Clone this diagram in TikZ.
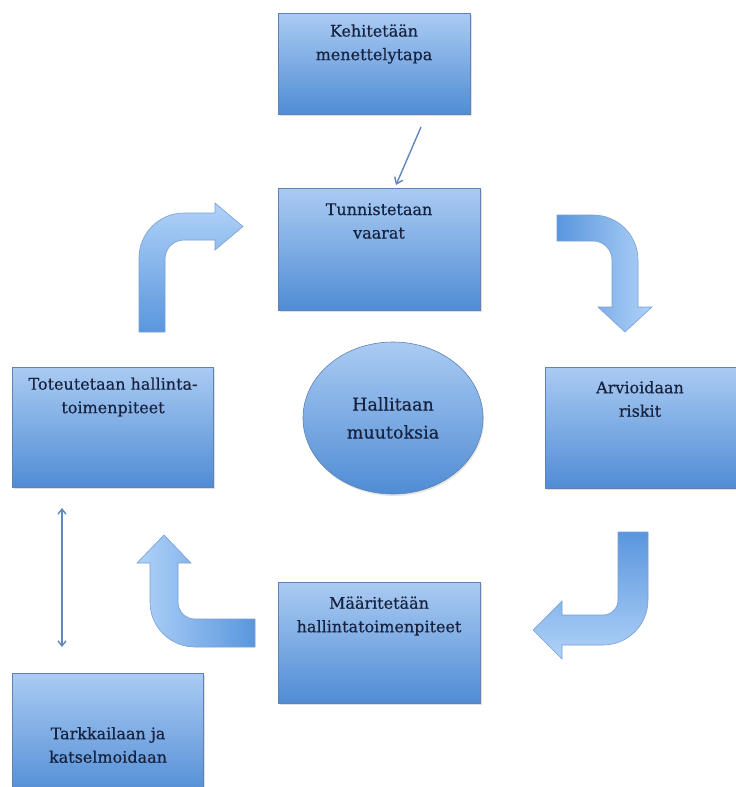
\documentclass[tikz,border=0pt]{standalone}
\usepackage{fontspec}
\setmainfont{DejaVu Serif}[FakeBold=0.4]
\usetikzlibrary{shapes.geometric,shadows,arrows.meta}

\definecolor{boxlight}{RGB}{170,203,243}
\definecolor{boxdark}{RGB}{80,140,212}
\definecolor{boxedge}{RGB}{96,130,178}
\definecolor{arrlight}{RGB}{176,210,248}
\definecolor{arrdark}{RGB}{90,150,222}
\definecolor{arredge}{RGB}{120,160,210}
\definecolor{inkblue}{RGB}{22,34,62}
\definecolor{thinline}{RGB}{100,135,185}

\tikzset{
  stepbox/.style={rectangle, draw=boxedge, line width=0.6pt,
    top color=boxlight, bottom color=boxdark, inner sep=0pt,
    drop shadow={opacity=0.25, shadow xshift=1.5pt, shadow yshift=-2pt}},
  hub/.style={ellipse, draw=boxedge, line width=0.6pt,
    top color=boxlight, bottom color=boxdark, inner sep=0pt,
    minimum width=180pt, minimum height=152pt,
    drop shadow={opacity=0.2, shadow xshift=1pt, shadow yshift=-2pt}},
  lbl/.style={align=center, text=inkblue, font=\fontsize{16}{23.5}\selectfont\addfontfeature{FakeBold=0.4}, inner sep=0pt},
  hublbl/.style={align=center, text=inkblue, font=\fontsize{17.5}{28}\selectfont\addfontfeature{FakeBold=0.4}, inner sep=0pt},
  bent/.style={draw=arredge, line width=0.6pt},
  thinarrow/.style={draw=thinline, line width=1.4pt},
}

\begin{document}
\begin{tikzpicture}[x=1pt, y=-1pt]
  \useasboundingbox[fill=white] (0,0) rectangle (736,787);

  % process boxes
  \node[stepbox, anchor=north west, minimum width=192pt, minimum height=101pt] (b1) at (278,13) {};
  \node[stepbox, anchor=north west, minimum width=202pt, minimum height=122pt] (b2) at (278,188) {};
  \node[stepbox, anchor=north west, minimum width=195pt, minimum height=121pt] (b3) at (545,367) {};
  \node[stepbox, anchor=north west, minimum width=201pt, minimum height=120pt] (b4) at (12,367) {};
  \node[stepbox, anchor=north west, minimum width=202pt, minimum height=121pt] (b5) at (278,582) {};
  \node[stepbox, anchor=north west, minimum width=191pt, minimum height=125pt] (b6) at (12,673) {};

  % central ellipse
  \node[hub] (hub) at (393,418) {};

  % labels
  \node[lbl] (t1) at (374,44) {Kehitetään\\menettelytapa};
  \node[lbl] (t2) at (379,221) {Tunnistetaan\\vaarat};
  \node[lbl] (t3) at (640,399) {Arvioidaan\\riskit};
  \node[lbl] (t4) at (113,397) {Toteutetaan hallinta-\\toimenpiteet};
  \node[lbl] (t5) at (379,616) {Määritetään\\hallintatoimenpiteet};
  \node[lbl] (t6) at (108,745) {Tarkkailaan ja\\katselmoidaan};
  \node[hublbl] (th) at (393,418) {Hallitaan\\muutoksia};

  % bent block arrows of the cycle
  % up then right, towards the hazard box
  \path[bent, top color=arrlight, bottom color=arrdark]
    (139,332) -- (139,258) arc[start angle=180, end angle=270, radius=45]
    -- (215,213) -- (215,203) -- (243,226.5) -- (215,250) -- (215,240)
    -- (184,240) arc[start angle=270, end angle=180, radius=19]
    -- (165,332) -- cycle;
  % right then down, towards the risk box
  \path[bent, left color=arrdark, right color=arrlight]
    (557,215) -- (593,215) arc[start angle=270, end angle=360, radius=45]
    -- (638,307) -- (652,307) -- (625,332) -- (598,307) -- (612,307)
    -- (612,260) arc[start angle=0, end angle=-90, radius=19]
    -- (557,241) -- cycle;
  % down then left, towards the measures box
  \path[bent, top color=arrdark, bottom color=arrlight]
    (618,532) -- (648,532) -- (648,600) arc[start angle=0, end angle=90, radius=45]
    -- (562,645) -- (562,659) -- (533,630) -- (562,601) -- (562,615)
    -- (603,615) arc[start angle=90, end angle=0, radius=15]
    -- cycle;
  % left then up, towards the implementation box
  \path[bent, left color=arrlight, right color=arrdark]
    (255,619) -- (255,647) -- (195,647) arc[start angle=90, end angle=180, radius=45]
    -- (150,563) -- (137,563) -- (164,535) -- (191,563) -- (178,563)
    -- (178,602) arc[start angle=180, end angle=90, radius=17]
    -- cycle;

  % thin connectors
  \coordinate (p1) at (421,127);
  \coordinate (p2) at (396,185);
  \coordinate (p3) at (62,508);
  \coordinate (p4) at (62,647);
  \draw[thinarrow, -{Straight Barb[length=6pt,width=9pt]}] (p1) -- (p2);
  \draw[thinarrow, {Straight Barb[length=5pt,width=8pt]}-{Straight Barb[length=5pt,width=8pt]}] (p3) -- (p4);
\end{tikzpicture}
\end{document}
